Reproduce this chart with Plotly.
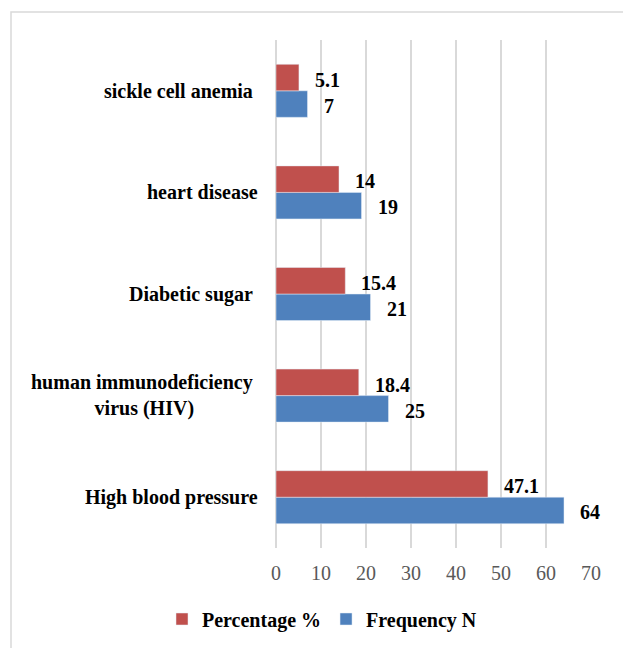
import plotly.graph_objects as go

# ---- data (bottom to top) ----
categories = ["High blood pressure", "human immunodeficiency virus (HIV)",
              "Diabetic sugar", "heart disease", "sickle cell anemia"]
category_labels = ["High blood pressure", "human immunodeficiency\u00a0<br>virus (HIV)",
                   "Diabetic sugar\u00a0", "heart disease", "sickle cell anemia\u00a0"]
percentage = [47.1, 18.4, 15.4, 14, 5.1]
frequency = [64, 25, 21, 19, 7]
x_ticks = [0, 10, 20, 30, 40, 50, 60, 70]

RED = "#C0504D"
BLUE = "#4F81BD"
FONT = "Liberation Serif"

OFF = 8  # page body margin
W, H = 631 - OFF, 648 - OFF
L, R, T, B = 276 - OFF, 40, 40 - OFF, 100
pw, ph = W - L - R, H - T - B

fig = go.Figure()
fig.add_trace(go.Bar(y=categories, x=frequency, orientation="h", name="Frequency N",
                     marker=dict(color=BLUE), legendrank=2))
fig.add_trace(go.Bar(y=categories, x=percentage, orientation="h", name="Percentage %",
                     marker=dict(color=RED), legendrank=1))

annotations = []
off = 0.128
lab_font = dict(family=FONT, size=20, color="black", weight="bold")
for i, (p, f) in enumerate(zip(percentage, frequency)):
    annotations.append(dict(x=p, y=i + off, xref="x", yref="y", text=f"{p:g}",
                            showarrow=False, xanchor="left", xshift=14, yshift=-2,
                            font=lab_font))
    annotations.append(dict(x=f, y=i - off, xref="x", yref="y", text=f"{f:g}",
                            showarrow=False, xanchor="left", xshift=14, yshift=-2,
                            font=lab_font))
for i, lab in enumerate(category_labels):
    annotations.append(dict(x=-16 / pw, y=i, xref="paper", yref="y", text=lab,
                            showarrow=False, xanchor="right", yanchor="middle", align="center",
                            font=lab_font))

fig.update_layout(
    width=W, height=H,
    margin=dict(l=L, r=R, t=T, b=B),
    paper_bgcolor="white", plot_bgcolor="white",
    barmode="group", bargap=0.478, bargroupgap=0,
    showlegend=True,
    legend=dict(orientation="h", xref="container", yref="container",
                x=(322 - OFF) / W, y=1 - (619 - OFF) / H, xanchor="center", yanchor="middle",
                font=dict(family=FONT, size=20, color="black", weight="bold"),
                itemwidth=30, tracegroupgap=0),
    xaxis=dict(range=[0, 70], tickvals=x_ticks, showgrid=True, gridcolor="#d9d9d9",
               gridwidth=1.5, zeroline=True, zerolinecolor="#d9d9d9", zerolinewidth=1.5,
               showline=False, ticks="", ticklabelstandoff=11,
               tickfont=dict(family=FONT, size=20, color="#595959")),
    yaxis=dict(showticklabels=False, showgrid=False, zeroline=False, showline=False,
               categoryorder="array", categoryarray=categories, fixedrange=True),
    annotations=annotations,
    shapes=[dict(type="rect", xref="paper", yref="paper",
                 x0=(11 - 276) / pw, x1=(630 - 276) / pw,
                 y0=(548 - 665) / ph, y1=(548 - 12) / ph,
                 line=dict(color="#d9d9d9", width=1.5), layer="below")],
)

fig.write_html("out.html")
